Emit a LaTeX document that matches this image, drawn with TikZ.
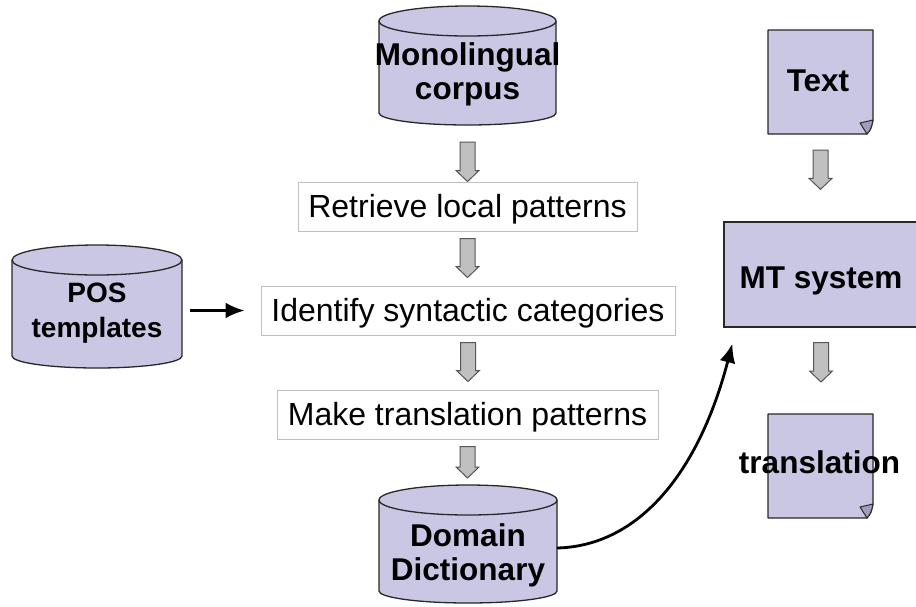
\documentclass[tikz,border=0pt]{standalone}
\usepackage{fontspec}
\setmainfont{Liberation Sans}
\usetikzlibrary{calc,arrows.meta}
\definecolor{lav}{RGB}{201,199,228}
\definecolor{foldc}{RGB}{160,158,186}
\definecolor{outl}{RGB}{40,40,40}
\definecolor{garrfill}{RGB}{192,192,192}
\definecolor{garrline}{RGB}{85,85,85}
\definecolor{boxline}{RGB}{190,190,190}
\newcommand\bigfont{\fontsize{31.5}{34}\selectfont}
\newcommand\regfont{\fontsize{32}{34}\selectfont}
\newcommand\posfont{\fontsize{28}{35}\selectfont}
\newcommand\drawcyl[2]{%
  \draw[cylline] ($(#1.north west)+(0,15)$) -- ($(#1.south west)+(0,-12)$)
    arc[start angle=180,end angle=360,x radius=#2pt,y radius=12pt]
    -- ($(#1.north east)+(0,15)$)
    arc[start angle=0,end angle=180,x radius=#2pt,y radius=15pt] -- cycle;
  \draw[cylline,fill=none] ($(#1.north west)+(0,15)$)
    arc[start angle=180,end angle=360,x radius=#2pt,y radius=15pt];}
\newcommand\drawdoc[1]{%
  \draw[cylline] (#1.north west) -- (#1.north east) -- ($(#1.south east)+(0,-14)$)
    .. controls ($(#1.south east)+(-2,-5)$) .. ($(#1.south east)+(-6,0)$)
    -- (#1.south west) -- cycle;
  \draw[foldst] ($(#1.south east)+(0,-14)$)
    .. controls ($(#1.south east)+(-2,-5)$) .. ($(#1.south east)+(-6,0)$)
    -- ($(#1.south east)+(-13,-11)$) -- cycle;}
\newcommand\garrow[2]{%
  \draw[garrowst] let \p1=(#1), \p2=(#2) in
    (\x1-7.5pt,\y1) -- (\x1+7.5pt,\y1) -- (\x1+7.5pt,\y2+11pt) -- (\x1+11.5pt,\y2+11pt)
    -- (\x1,\y2) -- (\x1-11.5pt,\y2+11pt) -- (\x1-7.5pt,\y2+11pt) -- cycle;}
\begin{document}
\begin{tikzpicture}[x=1pt,y=-1pt,
  cylline/.style={draw=outl,fill=lav,line width=1.3pt,line join=round},
  foldst/.style={draw=outl,fill=foldc,line width=1pt,line join=round},
  shapebox/.style={inner sep=0pt,outer sep=0pt},
  garrowst/.style={draw=garrline,fill=garrfill,line width=1pt,line join=miter},
  procbox/.style={draw=boxline,fill=white,line width=1pt,inner sep=0pt,minimum height=49pt,
    text height=22pt,text depth=0pt,font=\regfont},
  boldlabel/.style={inner sep=0pt,align=center,font=\bigfont\bfseries},
  blk/.style={draw=black,line width=2.8pt,-{Latex[length=19pt,width=16pt]}},
  mtbox/.style={draw=outl,fill=lav,line width=1.3pt,inner sep=0pt,
    text height=27pt,text depth=0pt,font=\bigfont\bfseries}]
\useasboundingbox (0,0) rectangle (916,606);
% cylinders
\node[shapebox,minimum width=177pt,minimum height=119pt] (mono) at (467.5,65.5) {};
\drawcyl{mono}{88.5}
\node[boldlabel] (monot) at (467.5,74) {Monolingual\\corpus};
\node[shapebox,minimum width=178pt,minimum height=118pt] (domain) at (468,544) {};
\drawcyl{domain}{89}
\node[boldlabel] (domaint) at (468,555) {Domain\\Dictionary};
\node[shapebox,minimum width=170pt,minimum height=123pt] (pos) at (97,306.5) {};
\drawcyl{pos}{85}
\node[boldlabel,font=\posfont\bfseries] (post) at (97,313.5) {POS\\templates};
% process boxes
\node[procbox,minimum width=339pt] (retr) at (467.5,206.5) {Retrieve local patterns};
\node[procbox,minimum width=414pt] (ident) at (468,310.5) {Identify syntactic categories};
\node[procbox,minimum width=381pt] (make) at (467.5,414.5) {Make translation patterns};
% documents
\node[shapebox,minimum width=105pt,minimum height=104pt] (textdoc) at (820.5,82) {};
\drawdoc{textdoc}
\node[boldlabel] (textt) at (818,81) {Text};
\node[mtbox,minimum width=194pt,minimum height=105pt] (mt) at (821,274.5) {MT system};
\node[shapebox,minimum width=105pt,minimum height=104pt] (trans) at (820.5,466) {};
\drawdoc{trans}
\node[boldlabel] (transt) at (819.5,462) {translation};
% gray block arrows
\garrow{$(mono.south)+(0,17)$}{retr.north}
\garrow{$(retr.south)+(0,7)$}{$(ident.north)+(0,-8)$}
\garrow{$(ident.south)+(0,7)$}{$(make.north)+(0,-8)$}
\garrow{$(make.south)+(0,7)$}{$(domain.north)+(0,-7)$}
\garrow{$(textdoc.south)+(0,16)$}{$(mt.north)+(0,-32)$}
\garrow{$(mt.south)+(0,15)$}{$(trans.north)+(0,-32)$}
% black arrows
\draw[blk,shorten <=8pt,shorten >=16pt] (pos.east |- ident.west) -- (ident.west);
\draw[blk] ($(domain.east)+(0,4)$) .. controls +(83,-2) and +(-33,127) .. ($(mt.south west)+(9,16)$);
\end{tikzpicture}
\end{document}
